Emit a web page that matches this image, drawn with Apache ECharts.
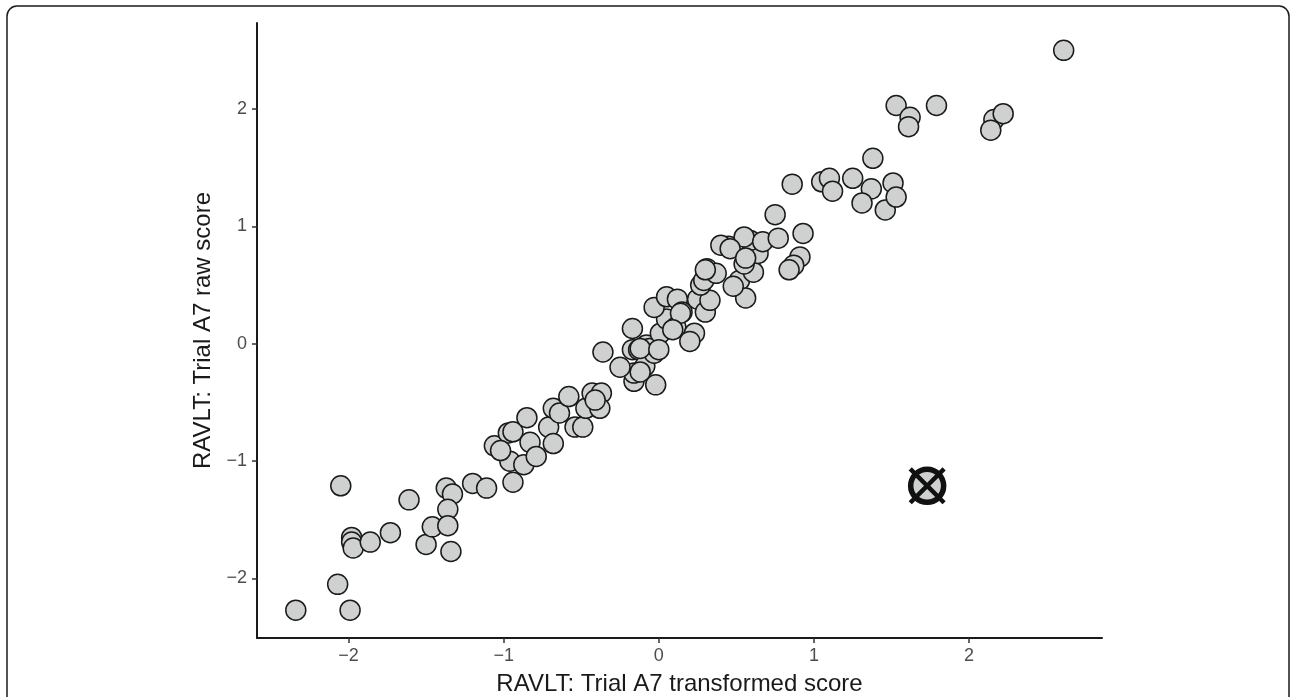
<!DOCTYPE html>
<html>
<head>
<meta charset="utf-8">
<script src="https://cdn.jsdelivr.net/npm/echarts@6.0.0/dist/echarts.min.js"></script>
<style>
  html, body { margin: 0; padding: 0; background: #fff; }
  #chart { width: 1290px; height: 697px; }
</style>
</head>
<body>
<div id="chart"></div>
<script>
// 数据: transformed score (x) vs raw score (y)
var xVals = [
  -2.34, -2.07, -1.99, -2.05, -1.98, -1.98, -1.97, -1.86, -1.73, -1.61,
  -1.50, -1.46, -1.37, -1.33, -1.36, -1.36, -1.34, -1.20, -1.11, -1.06,
  -0.94, -0.97, -0.94, -0.85, -0.83, -0.96, -0.87, -0.79, -1.02, -0.71,
  -0.68, -0.64, -0.68, -0.58, -0.54, -0.49, -0.47, -0.43, -0.37, -0.38,
  -0.41, -0.16, -0.16, -0.02, -0.36, -0.25, -0.17, -0.13, -0.08, -0.09,
  -0.17, -0.06, -0.03, 0.01, 0.05, -0.03, 0.05, 0.12, 0.15, 0.11,
  0.23, 0.20, 0.25, 0.30, 0.33, 0.27, 0.29, 0.31, 0.37, 0.45,
  0.40, 0.50, 0.52, 0.56, 0.61, 0.55, 0.64, 0.59, 0.55, 0.67,
  0.77, 0.93, 0.91, 0.87, 0.84, 0.75, 0.86, 1.08, 1.05, 1.10,
  1.12, 1.25, 1.37, 1.31, 1.46, 1.51, 1.53, 1.38, 2.61, 1.53,
  1.62, 1.61, 1.79, 2.16, 2.22, 2.14, 0.46, 0.56, 0.48, 0.30,
  0.14, 0.09, -0.12, 0.00, -0.12
];
var yVals = [
  -2.27, -2.05, -2.27, -1.21, -1.65, -1.69, -1.74, -1.69, -1.61, -1.33,
  -1.71, -1.56, -1.23, -1.28, -1.41, -1.55, -1.77, -1.19, -1.23, -0.87,
  -1.18, -0.76, -0.75, -0.63, -0.84, -1.00, -1.03, -0.96, -0.91, -0.71,
  -0.55, -0.59, -0.85, -0.45, -0.71, -0.71, -0.55, -0.42, -0.42, -0.55,
  -0.48, -0.32, -0.25, -0.35, -0.07, -0.20, -0.05, -0.05, -0.01, -0.19,
  0.13, -0.04, -0.08, 0.09, 0.21, 0.31, 0.40, 0.38, 0.27, 0.14,
  0.09, 0.02, 0.38, 0.27, 0.37, 0.50, 0.54, 0.64, 0.60, 0.83,
  0.84, 0.50, 0.54, 0.39, 0.61, 0.68, 0.77, 0.88, 0.91, 0.87,
  0.90, 0.94, 0.74, 0.67, 0.63, 1.10, 1.36, 1.38, 1.38, 1.41,
  1.30, 1.41, 1.32, 1.20, 1.14, 1.37, 1.25, 1.58, 2.50, 2.03,
  1.93, 1.85, 2.03, 1.91, 1.96, 1.82, 0.81, 0.73, 0.49, 0.63,
  0.26, 0.12, -0.04, -0.05, -0.24
];
// 离群点
var outlierX = [1.73];
var outlierY = [-1.21];
// 刻度
var xTicks = [-2, -1, 0, 1, 2];
var yTicks = [-2, -1, 0, 1, 2];

var pts = [];
for (var i = 0; i < xVals.length; i++) {
  pts.push([xVals[i], yVals[i]]);
}
var outPts = [];
for (var j = 0; j < outlierX.length; j++) {
  outPts.push([outlierX[j], outlierY[j]]);
}

function minusFmt(v) {
  return (v + '').replace('-', '\u2212');
}

var crossPath = 'path://M0,3.4 L3.4,0 L20,16.6 L36.6,0 L40,3.4 L23.4,20 L40,36.6 L36.6,40 L20,23.4 L3.4,40 L0,36.6 L16.6,20 Z';

var chart = echarts.init(document.getElementById('chart'));
chart.setOption({
  animation: false,
  backgroundColor: '#ffffff',
  textStyle: { fontFamily: 'Liberation Sans, Arial, sans-serif' },
  grid: {
    left: 257,
    right: 188,
    top: 23,
    bottom: 59,
    containLabel: false,
    outerBoundsMode: 'none'
  },
  graphic: [{
    type: 'rect',
    silent: true,
    shape: { x: 7, y: 6, width: 1282, height: 720, r: 10 },
    style: { fill: 'none', stroke: '#1a1a1a', lineWidth: 1.5 }
  }],
  xAxis: {
    type: 'value',
    min: -2.59,
    max: 2.857,
    name: 'RAVLT: Trial A7 transformed score',
    nameLocation: 'middle',
    nameGap: 34,
    nameTextStyle: { fontSize: 24, color: '#1a1a1a' },
    splitLine: { show: false },
    axisLine: { show: true, onZero: false, lineStyle: { color: '#1a1a1a', width: 2 } },
    axisTick: { show: true, length: 5, customValues: xTicks, lineStyle: { color: '#333', width: 1.5 } },
    axisLabel: { fontSize: 18, color: '#4d4d4d', margin: 9, customValues: xTicks, formatter: minusFmt }
  },
  yAxis: {
    type: 'value',
    min: -2.507,
    max: 2.733,
    name: 'RAVLT: Trial A7 raw score',
    nameLocation: 'middle',
    nameGap: 40,
    nameRotate: 90,
    nameTextStyle: { fontSize: 24, color: '#1a1a1a' },
    splitLine: { show: false },
    axisLine: { show: true, onZero: false, lineStyle: { color: '#1a1a1a', width: 2 } },
    axisTick: { show: true, length: 5, customValues: yTicks, lineStyle: { color: '#333', width: 1.5 } },
    axisLabel: { fontSize: 18, color: '#4d4d4d', margin: 10, customValues: yTicks, formatter: minusFmt }
  },
  series: [{
    type: 'scatter',
    data: pts,
    symbol: 'circle',
    symbolSize: 20,
    itemStyle: { color: '#cfd0d0', borderColor: '#1a1a1a', borderWidth: 1.5, opacity: 1 }
  }, {
    type: 'scatter',
    data: outPts,
    symbol: 'circle',
    symbolSize: 33,
    z: 3,
    itemStyle: { color: '#cfd0d0', borderColor: '#111', borderWidth: 5.5, opacity: 1 }
  }, {
    type: 'scatter',
    data: outPts,
    symbol: crossPath,
    symbolSize: 37,
    z: 4,
    itemStyle: { color: '#111', opacity: 1 }
  }]
});
</script>
</body>
</html>
